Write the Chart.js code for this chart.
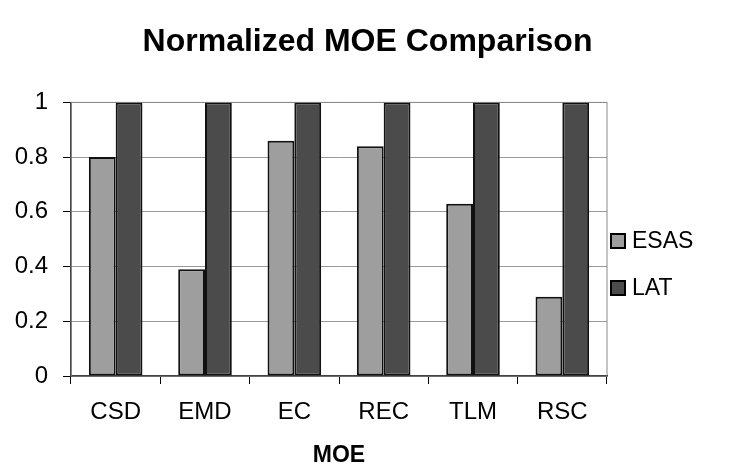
<!DOCTYPE html>
<html>
<head>
<meta charset="utf-8">
<title>Normalized MOE Comparison</title>
<script src="https://cdn.jsdelivr.net/npm/chart.js@4.4.1/dist/chart.umd.min.js"></script>
<style>
  html, body { margin: 0; padding: 0; background: #fff; }
  #wrap { width: 735px; height: 471px; }
</style>
</head>
<body>
<div id="wrap"><canvas id="moeChart" width="735" height="471"></canvas></div>
<script>
const categories = ['CSD', 'EMD', 'EC', 'REC', 'TLM', 'RSC'];
const esasValues = [0.80, 0.39, 0.86, 0.84, 0.63, 0.29];
const latValues = [1, 1, 1, 1, 1, 1];
const yTicks = [0, 0.2, 0.4, 0.6, 0.8, 1];

const FONT = '"Liberation Sans", Arial, Helvetica, sans-serif';

// gray frame around the plot area (right edge shows, the rest is covered by axes/grid)
const plotFrame = {
  id: 'plotFrame',
  beforeDatasetsDraw(chart) {
    const { ctx, chartArea: a } = chart;
    ctx.save();
    ctx.strokeStyle = '#8a8a8a';
    ctx.lineWidth = 1;
    ctx.strokeRect(a.left, a.top, a.right - a.left, a.bottom - a.top);
    ctx.restore();
  }
};

// legend drawn to the right of the plot, Excel style
const sideLegend = {
  id: 'sideLegend',
  afterDraw(chart, args, opts) {
    const { ctx } = chart;
    ctx.save();
    ctx.font = '23px ' + FONT;
    ctx.textBaseline = 'middle';
    chart.data.datasets.forEach((ds, i) => {
      const cy = opts.top + i * opts.rowGap;
      ctx.fillStyle = ds.backgroundColor;
      ctx.fillRect(opts.left, cy - opts.box / 2, opts.box, opts.box);
      ctx.strokeStyle = '#000';
      ctx.lineWidth = 2;
      ctx.strokeRect(opts.left, cy - opts.box / 2, opts.box, opts.box);
      ctx.fillStyle = '#000';
      ctx.fillText(ds.label, opts.left + opts.box + 7, cy + 1);
    });
    ctx.restore();
  }
};

new Chart(document.getElementById('moeChart'), {
  type: 'bar',
  data: {
    labels: categories,
    datasets: [
      {
        label: 'ESAS',
        data: esasValues,
        backgroundColor: '#9e9e9e',
        borderColor: '#111',
        borderWidth: 2,
        borderSkipped: false,
        categoryPercentage: 0.6,
        barPercentage: 1
      },
      {
        label: 'LAT',
        data: latValues,
        backgroundColor: '#4b4b4b',
        borderColor: '#111',
        borderWidth: 2,
        borderSkipped: false,
        categoryPercentage: 0.6,
        barPercentage: 1
      }
    ]
  },
  options: {
    responsive: false,
    animation: false,
    events: [],
    layout: { padding: 0 },
    scales: {
      x: {
        afterFit(scale) { scale.height = 95; },
        grid: {
          display: true,
          offset: true,
          drawOnChartArea: false,
          drawTicks: true,
          tickLength: 8,
          tickColor: '#000'
        },
        border: { display: true, color: '#000', width: 1.5 },
        ticks: {
          padding: 14,
          color: '#000',
          font: { family: FONT, size: 24 }
        },
        title: {
          display: true,
          text: 'MOE',
          color: '#000',
          font: { family: FONT, size: 23, weight: 'bold' },
          padding: { top: 0, bottom: 2 }
        }
      },
      y: {
        min: 0,
        max: 1,
        afterFit(scale) { scale.width = 71; },
        afterBuildTicks(scale) { scale.ticks = yTicks.map(v => ({ value: v })); },
        grid: {
          color: '#9a9a9a',
          lineWidth: 1,
          drawTicks: true,
          tickLength: 8,
          tickColor: '#000'
        },
        border: { display: true, color: '#000', width: 1.5 },
        ticks: {
          padding: 15,
          color: '#000',
          font: { family: FONT, size: 24 },
          callback: v => String(v)
        }
      },
      // empty right-hand axis that reserves the space where the legend sits
      legendSpace: {
        type: 'linear',
        position: 'right',
        afterFit(scale) { scale.width = 128; },
        grid: { display: false },
        border: { display: false },
        ticks: { display: false }
      }
    },
    plugins: {
      legend: { display: false },
      tooltip: { enabled: false },
      title: {
        display: true,
        text: 'Normalized MOE Comparison',
        color: '#000',
        font: { family: FONT, size: 32, weight: 'bold' },
        padding: { top: 23, bottom: 41 }
      },
      sideLegend: { left: 611, top: 241, rowGap: 47, box: 14 }
    }
  },
  plugins: [plotFrame, sideLegend]
});
</script>
</body>
</html>
